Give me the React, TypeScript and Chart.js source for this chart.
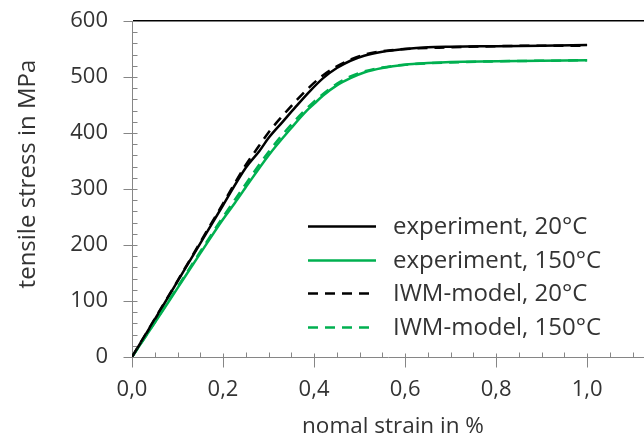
import { useEffect, useRef } from 'react';
import { Chart, registerables } from 'chart.js';

Chart.register(...registerables);

// ---- data (strain in %, stress in MPa) ----
const strainExp20 = [0, 0.05, 0.1, 0.15, 0.2, 0.25, 0.28, 0.3, 0.33, 0.36, 0.39, 0.42, 0.45, 0.48, 0.51, 0.55, 0.6, 0.65, 0.7, 0.8, 0.9, 1.0];
const stressExp20 = [0, 67, 135, 203, 271, 338, 368, 391, 419, 447, 474, 498, 516, 529, 538, 545, 550, 553, 554, 555, 556, 557];

const strainExp150 = [0, 0.05, 0.1, 0.15, 0.2, 0.226, 0.25, 0.3, 0.35, 0.384, 0.4, 0.42, 0.45, 0.48, 0.51, 0.55, 0.6, 0.65, 0.7, 0.8, 0.9, 1.0];
const stressExp150 = [0, 61, 123, 185, 246, 275, 303, 360, 409, 440, 452, 467, 485, 498, 508, 516, 522, 525, 527, 528, 529, 530];

const strainModel20 = [0, 0.05, 0.1, 0.15, 0.2, 0.25, 0.28, 0.3, 0.33, 0.36, 0.39, 0.42, 0.45, 0.48, 0.51, 0.55, 0.6, 0.7, 0.8, 0.9, 1.0];
const stressModel20 = [0, 68, 136, 205, 274, 343, 378, 401, 430, 457, 482, 503, 519, 531, 540, 546, 550, 553, 555, 556, 556];

const strainModel150 = [0, 0.05, 0.1, 0.15, 0.2, 0.25, 0.3, 0.35, 0.4, 0.45, 0.48, 0.51, 0.55, 0.6, 0.7, 0.8, 0.9, 1.0];
const stressModel150 = [0, 62, 125, 188, 250, 309, 366, 415, 456, 488, 501, 510, 517, 522, 526, 528, 529, 530];

const seriesLabels = ['experiment, 20°C', 'experiment, 150°C', 'IWM-model, 20°C', 'IWM-model, 150°C'];
const xTitle = 'nomal strain in %';
const yTitle = 'tensile stress in MPa';
const xTickValues = [0, 0.2, 0.4, 0.6, 0.8, 1.0];
const yTickValues = [0, 100, 200, 300, 400, 500, 600];
const xMinorStep = 0.05;
const yMinorStep = 20;
const xMax = 1.125;
const yMax = 600;

const BLACK = '#000000';
const GREEN = '#00b050';
const AXIS = '#868686';
const TEXT = '#333333';
const FONT = '"Open Sans", "DejaVu Sans", sans-serif';
const FS = 22;

const zip = (xs: number[], ys: number[]) => xs.map((x, i) => ({ x, y: ys[i] }));

const tickMarksPlugin = {
  id: 'tickMarks',
  beforeDatasetsDraw(chart: any) {
    const { ctx } = chart;
    const xs = chart.scales.x;
    const ys = chart.scales.y;
    const axisY = Math.round(ys.getPixelForValue(0)) + 0.5;
    const axisX = Math.round(xs.getPixelForValue(0)) + 0.5;
    ctx.save();
    ctx.strokeStyle = AXIS;
    ctx.lineWidth = 1;
    ctx.beginPath();
    const nx = Math.floor(xMax / xMinorStep + 1e-6);
    for (let i = 0; i <= nx; i++) {
      const v = i * xMinorStep;
      const px = Math.round(xs.getPixelForValue(v)) + 0.5;
      const major = xTickValues.some((t) => Math.abs(t - v) < 1e-6);
      if (major) {
        ctx.moveTo(px, axisY - 4);
        ctx.lineTo(px, axisY + 10);
      } else {
        ctx.moveTo(px, axisY - 5);
        ctx.lineTo(px, axisY);
      }
    }
    const ny = Math.floor(yMax / yMinorStep + 1e-6);
    for (let i = 0; i <= ny; i++) {
      const v = i * yMinorStep;
      const py = Math.round(ys.getPixelForValue(v)) + 0.5;
      const major = yTickValues.some((t) => Math.abs(t - v) < 1e-6);
      if (major) {
        ctx.moveTo(axisX - 9, py);
        ctx.lineTo(axisX + 5, py);
      } else {
        ctx.moveTo(axisX, py);
        ctx.lineTo(axisX + 5, py);
      }
    }
    ctx.stroke();
    ctx.restore();
  },
};

const axisTitlesPlugin = {
  id: 'axisTitles',
  afterDraw(chart: any) {
    const { ctx, chartArea } = chart;
    ctx.save();
    ctx.fillStyle = TEXT;
    ctx.textAlign = 'center';
    ctx.textBaseline = 'middle';
    // y title
    ctx.save();
    ctx.font = `24px ${FONT}`;
    ctx.translate(28, (chartArea.top + chartArea.bottom) / 2 - 15);
    ctx.rotate(-Math.PI / 2);
    ctx.fillText(yTitle, 0, 0);
    ctx.restore();
    // x title
    ctx.font = `22.5px ${FONT}`;
    ctx.fillText(xTitle, (chartArea.left + chartArea.right) / 2 + 5, chartArea.bottom + 70);
    ctx.restore();
  },
};

const insideLegendPlugin = {
  id: 'insideLegend',
  afterDraw(chart: any) {
    const { ctx, chartArea } = chart;
    const lineX0 = chartArea.left + 176;
    const lineX1 = chartArea.left + 244;
    const textX = chartArea.left + 261;
    const y0 = chartArea.top + 205;
    const dy = 33.7;
    ctx.save();
    ctx.font = `24px ${FONT}`;
    ctx.textBaseline = 'middle';
    ctx.textAlign = 'left';
    chart.data.datasets.forEach((ds: any, i: number) => {
      const y = Math.round(y0 + i * dy) + 0.5;
      ctx.strokeStyle = ds.borderColor;
      ctx.lineWidth = ds.borderWidth;
      ctx.setLineDash(ds.borderDash || []);
      ctx.beginPath();
      ctx.moveTo(lineX0, y);
      ctx.lineTo(lineX1, y);
      ctx.stroke();
      ctx.setLineDash([]);
      ctx.fillStyle = TEXT;
      ctx.fillText(ds.label, textX, y + 1);
    });
    ctx.restore();
  },
};

export default function App() {
  const canvasRef = useRef<HTMLCanvasElement | null>(null);

  useEffect(() => {
    if (!canvasRef.current) return;
    const chart = new Chart(canvasRef.current, {
      type: 'line',
      data: {
        datasets: [
          {
            label: seriesLabels[0],
            data: zip(strainExp20, stressExp20),
            borderColor: BLACK,
            borderWidth: 2.5,
            pointRadius: 0,
            cubicInterpolationMode: 'monotone',
            order: 3,
          },
          {
            label: seriesLabels[1],
            data: zip(strainExp150, stressExp150),
            borderColor: GREEN,
            borderWidth: 2.5,
            pointRadius: 0,
            cubicInterpolationMode: 'monotone',
            order: 4,
          },
          {
            label: seriesLabels[2],
            data: zip(strainModel20, stressModel20),
            borderColor: BLACK,
            borderWidth: 2.5,
            borderDash: [10, 7],
            pointRadius: 0,
            cubicInterpolationMode: 'monotone',
            order: 1,
          },
          {
            label: seriesLabels[3],
            data: zip(strainModel150, stressModel150),
            borderColor: GREEN,
            borderWidth: 2.5,
            borderDash: [10, 7],
            pointRadius: 0,
            cubicInterpolationMode: 'monotone',
            order: 2,
          },
        ],
      },
      options: {
        animation: false,
        responsive: true,
        maintainAspectRatio: false,
        layout: { padding: { top: 21, right: 0, bottom: 0, left: 0 } },
        plugins: {
          legend: { display: false },
          tooltip: { enabled: false },
        },
        scales: {
          x: {
            type: 'linear',
            min: 0,
            max: xMax,
            afterBuildTicks: (scale: any) => {
              scale.ticks = xTickValues.map((v) => ({ value: v }));
            },
            afterFit: (scale: any) => {
              scale.height = 84;
            },
            grid: { display: true, drawOnChartArea: false, drawTicks: false, color: 'transparent' },
            border: { display: true, color: AXIS, width: 1 },
            ticks: {
              padding: 20,
              color: TEXT,
              font: { family: FONT, size: FS },
              maxRotation: 0,
              callback: (v: any) => Number(v).toFixed(1).replace('.', ','),
            },
            title: { display: false, text: xTitle },
          },
          y: {
            type: 'linear',
            min: 0,
            max: yMax,
            afterBuildTicks: (scale: any) => {
              scale.ticks = yTickValues.map((v) => ({ value: v }));
            },
            afterFit: (scale: any) => {
              scale.width = 132;
              scale.paddingTop = 0;
              scale.paddingBottom = 0;
            },
            grid: {
              display: true,
              drawOnChartArea: true,
              drawTicks: false,
              color: (c: any) => (c.tick && c.tick.value === yMax ? BLACK : 'transparent'),
              lineWidth: 1.5,
            },
            border: { display: true, color: AXIS, width: 1 },
            ticks: {
              padding: 24,
              color: TEXT,
              font: { family: FONT, size: FS },
            },
            title: { display: false, text: yTitle },
          },
        },
      },
      plugins: [tickMarksPlugin, axisTitlesPlugin, insideLegendPlugin],
    } as any);
    return () => chart.destroy();
  }, []);

  return (
    <div style={{ position: 'fixed', left: 0, top: 0, width: 644, height: 441, background: '#ffffff' }}>
      <canvas ref={canvasRef} />
    </div>
  );
}
